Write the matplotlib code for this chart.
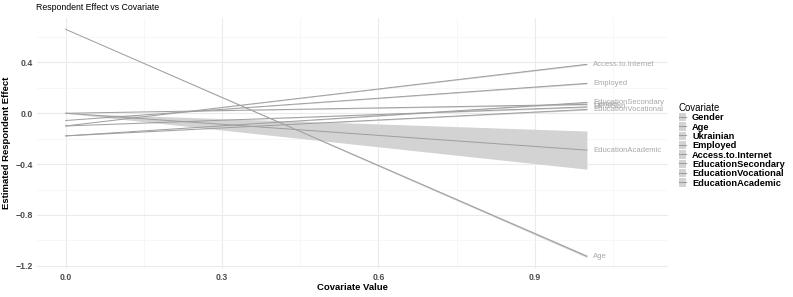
import matplotlib
matplotlib.use("Agg")
import matplotlib.pyplot as plt
from matplotlib.lines import Line2D
from matplotlib.patches import Patch
import numpy as np

plt.rcParams['font.family'] = ['Liberation Sans', 'DejaVu Sans']

covariates = ["Gender", "Age", "Ukrainian", "Employed", "Access.to.Internet",
              "EducationSecondary", "EducationVocational", "EducationAcademic"]
x_vals = [0.0, 1.0]
effect_start = [0.0, 0.66, -0.10, -0.057, -0.10, -0.178, -0.178, 0.0]
effect_end = [0.07, -1.125, 0.05, 0.235, 0.385, 0.085, 0.03, -0.29]
ci_low_start = [0.0, 0.66, -0.10, -0.057, -0.10, -0.178, -0.178, 0.0]
ci_low_end = [0.065, -1.135, 0.045, 0.23, 0.38, 0.08, 0.025, -0.44]
ci_high_start = [0.0, 0.66, -0.10, -0.057, -0.10, -0.178, -0.178, 0.0]
ci_high_end = [0.075, -1.115, 0.055, 0.24, 0.39, 0.09, 0.035, -0.14]
label_y = [0.068, -1.125, 0.05, 0.235, 0.385, 0.085, 0.03, -0.29]

fig = plt.figure(figsize=(7.93, 2.97), dpi=100)
ax = fig.add_axes([0.0467, 0.0956, 0.7953, 0.8454])

line_col = "#9e9e9e"
for i, name in enumerate(covariates):
    ax.fill_between(x_vals, [ci_low_start[i], ci_low_end[i]],
                    [ci_high_start[i], ci_high_end[i]],
                    color="#d3d3d3", linewidth=0, zorder=1)
for i, name in enumerate(covariates):
    ax.plot(x_vals, [effect_start[i], effect_end[i]], color=line_col, lw=0.7, zorder=2)
    ax.text(1.0 + 0.012, label_y[i], name, fontsize=5.5, color="#a8a8a8",
            va="center", ha="left", zorder=3)

ax.set_xlim(-0.055, 1.155)
ax.set_ylim(-1.222, 0.753)
ax.set_xticks([0.0, 0.3, 0.6, 0.9])
ax.set_xticklabels(["0.0", "0.3", "0.6", "0.9"])
ax.set_yticks([-1.2, -0.8, -0.4, 0.0, 0.4])
ax.set_yticklabels(["\u22121.2", "\u22120.8", "\u22120.4", "0.0", "0.4"])
ax.set_xticks([0.15, 0.45, 0.75, 1.05], minor=True)
ax.set_yticks([-1.0, -0.6, -0.2, 0.2, 0.6], minor=True)
ax.grid(True, which="major", color="#ebebeb", lw=0.8)
ax.grid(True, which="minor", color="#f4f4f4", lw=0.5)
ax.set_axisbelow(True)
for s in ax.spines.values():
    s.set_visible(False)
ax.tick_params(which="both", length=0, labelsize=6.3, labelcolor="#4d4d4d", pad=3)
for lab in ax.get_xticklabels() + ax.get_yticklabels():
    lab.set_fontweight("bold")

ax.set_xlabel("Covariate Value", fontsize=6.8, fontweight="bold", labelpad=1)
ax.set_ylabel("Estimated Respondent Effect", fontsize=6.8, fontweight="bold", labelpad=3)
fig.text(36 / 793, 0.975, "Respondent Effect vs Covariate", fontsize=6.3,
         ha="left", va="center")

handles = [(Patch(facecolor="#d3d3d3", edgecolor="none"),
            Line2D([0], [0], color=line_col, lw=0.8)) for _ in covariates]
leg = fig.legend(handles, covariates, loc="upper left",
                 bbox_to_anchor=(0.848, 0.675), frameon=False,
                 title="Covariate", fontsize=6.7, title_fontsize=6.9,
                 handlelength=0.8, handleheight=1.0, handletextpad=0.6,
                 labelspacing=0.0, borderpad=0.2, alignment="left")
for t in leg.get_texts():
    t.set_fontweight("bold")

fig.savefig("out.png", dpi=100)
